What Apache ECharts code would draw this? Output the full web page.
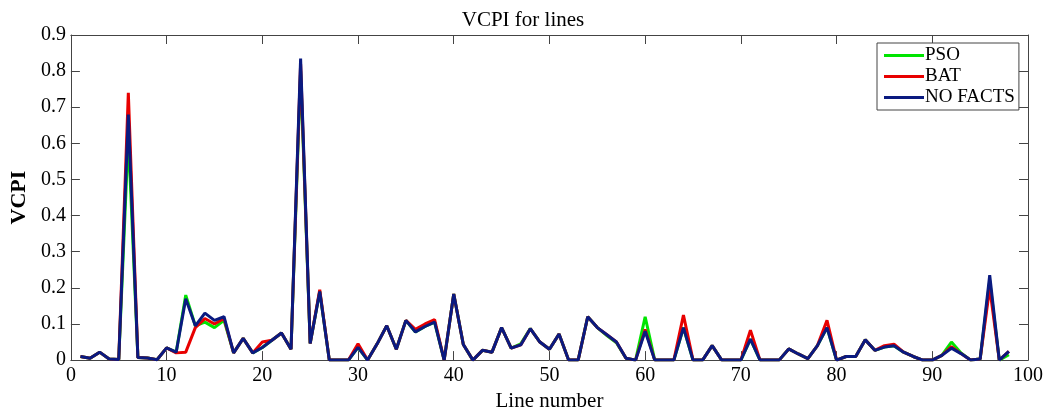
<!DOCTYPE html>
<html>
<head>
<meta charset="utf-8">
<script src="https://cdn.jsdelivr.net/npm/echarts@6/dist/echarts.min.js"></script>
<style>
html, body { margin: 0; padding: 0; background: #fff; }
#chart { width: 1046px; height: 417px; }
</style>
</head>
<body>
<div id="chart"></div>
<script>
var seriesNames = ['PSO', 'BAT', 'NO FACTS'];
var xTicks = [0, 10, 20, 30, 40, 50, 60, 70, 80, 90, 100];
var yTicks = [0, 0.1, 0.2, 0.3, 0.4, 0.5, 0.6, 0.7, 0.8, 0.9];

// VCPI per line, lines 1..98
var psoVals = [
	0.010, 0.005, 0.022, 0.003, 0.002, 0.62, 0.007, 0.006, 0.001, 0.034,
	0.022, 0.18, 0.095, 0.105, 0.09, 0.11, 0.02, 0.06, 0.02, 0.035,
	0.055, 0.075, 0.03, 0.80, 0.046, 0.19, 0, 0, 0, 0.035,
	0, 0.045, 0.095, 0.03, 0.11, 0.078, 0.093, 0.105, 0, 0.183,
	0.043, 0, 0.027, 0.022, 0.09, 0.033, 0.045, 0.087, 0.05, 0.03,
	0.072, 0, 0, 0.12, 0.09, 0.068, 0.048, 0.005, 0, 0.12,
	0, 0, 0, 0.09, 0, 0, 0.04, 0, 0, 0,
	0.058, 0, 0, 0, 0.031, 0.017, 0.004, 0.04, 0.09, 0,
	0.01, 0.01, 0.056, 0.027, 0.036, 0.04, 0.022, 0.01, 0, 0,
	0.013, 0.05, 0.02, 0, 0.003, 0.22, 0, 0.015
];
var batVals = [
	0.010, 0.005, 0.022, 0.003, 0.002, 0.74, 0.007, 0.006, 0.001, 0.034,
	0.02, 0.022, 0.09, 0.115, 0.10, 0.115, 0.02, 0.06, 0.02, 0.05,
	0.055, 0.075, 0.03, 0.82, 0.046, 0.195, 0, 0, 0, 0.045,
	0, 0.045, 0.095, 0.03, 0.11, 0.085, 0.10, 0.112, 0, 0.183,
	0.043, 0, 0.027, 0.022, 0.09, 0.033, 0.042, 0.087, 0.05, 0.03,
	0.072, 0, 0, 0.12, 0.09, 0.07, 0.05, 0.005, 0, 0.085,
	0, 0, 0, 0.125, 0, 0, 0.04, 0, 0, 0,
	0.083, 0, 0, 0, 0.031, 0.017, 0.004, 0.04, 0.11, 0,
	0.01, 0.01, 0.056, 0.027, 0.04, 0.044, 0.022, 0.01, 0, 0,
	0.013, 0.037, 0.018, 0, 0.003, 0.20, 0, 0.024
];
var noFactsVals = [
	0.010, 0.005, 0.022, 0.003, 0.002, 0.68, 0.007, 0.006, 0.001, 0.034,
	0.022, 0.17, 0.095, 0.13, 0.11, 0.12, 0.02, 0.06, 0.02, 0.035,
	0.055, 0.075, 0.03, 0.835, 0.046, 0.19, 0, 0, 0, 0.035,
	0, 0.045, 0.095, 0.03, 0.11, 0.078, 0.093, 0.105, 0, 0.183,
	0.043, 0, 0.027, 0.022, 0.09, 0.033, 0.042, 0.087, 0.05, 0.03,
	0.072, 0, 0, 0.12, 0.09, 0.07, 0.05, 0.005, 0, 0.08,
	0, 0, 0, 0.09, 0, 0, 0.04, 0, 0, 0,
	0.058, 0, 0, 0, 0.031, 0.017, 0.004, 0.04, 0.09, 0,
	0.01, 0.01, 0.056, 0.027, 0.036, 0.04, 0.022, 0.01, 0, 0,
	0.013, 0.033, 0.018, 0, 0.003, 0.235, 0, 0.024
];
var colors = ['#00e400', '#e80000', '#0a1a80'];

function toPairs(vals){
	var out = [];
	for(var i = 0; i < vals.length; ++i){
		out.push([i + 1, vals[i]]);
	}
	return out;
}

var serif = 'Liberation Serif';
var axisColor = '#444';

function boxAxis(pos, isX, showLabels){
	var ticks = isX ? xTicks : yTicks;
	return {
		type: 'value',
		position: pos,
		min: ticks[0],
		max: ticks[ticks.length - 1],
		interval: ticks[1] - ticks[0],
		splitLine: { show: false },
		axisLine: { show: true, onZero: false, lineStyle: { color: axisColor, width: 1 } },
		axisTick: { show: true, inside: true, length: 9, lineStyle: { color: axisColor } },
		axisLabel: {
			show: showLabels,
			color: '#000',
			fontFamily: serif,
			fontSize: 20,
			margin: isX ? 6 : 5,
			formatter: function(v){ return isX ? String(Math.round(v)) : (v === 0 ? '0' : v.toFixed(1)); }
		}
	};
}

var xMain = boxAxis('bottom', true, true);
xMain.name = 'Line number';
xMain.nameLocation = 'middle';
xMain.nameGap = 22;
xMain.nameTextStyle = { color: '#000', fontFamily: serif, fontSize: 21 };

var yMain = boxAxis('left', false, true);
yMain.name = 'VCPI';
yMain.nameLocation = 'middle';
yMain.nameGap = 34;
yMain.nameTextStyle = { color: '#000', fontFamily: serif, fontSize: 22, fontWeight: 'bold' };

var allVals = [psoVals, batVals, noFactsVals];
var series = [];
for(var s = 0; s < 3; ++s){
	series.push({
		name: seriesNames[s],
		type: 'line',
		data: toPairs(allVals[s]),
		symbol: 'none',
		lineStyle: { color: colors[s], width: 3 },
		itemStyle: { color: colors[s] },
		animation: false
	});
}

var option = {
	animation: false,
	title: {
		text: 'VCPI for lines',
		left: 'center',
		top: 5,
		textStyle: { color: '#000', fontFamily: serif, fontSize: 21, fontWeight: 'normal' }
	},
	legend: {
		data: seriesNames,
		orient: 'vertical',
		left: 877,
		top: 43,
		padding: [3, 4, 3, 7],
		itemGap: 2,
		itemWidth: 40,
		itemHeight: 19,
		icon: 'path://M0,0 L40,0 L40,3 L0,3 Z',
		backgroundColor: '#fff',
		borderColor: '#444',
		borderWidth: 1,
		borderRadius: 0,
		textStyle: { color: '#000', fontFamily: serif, fontSize: 19, padding: [0, 0, 0, -4] }
	},
	grid: { left: 67, right: 18, top: 35, bottom: 44 },
	xAxis: [xMain, boxAxis('top', true, false)],
	yAxis: [yMain, boxAxis('right', false, false)],
	series: series
};

var myChart = echarts.init(document.getElementById('chart'), null, { renderer: 'canvas' });
myChart.setOption(option);
</script>
</body>
</html>
